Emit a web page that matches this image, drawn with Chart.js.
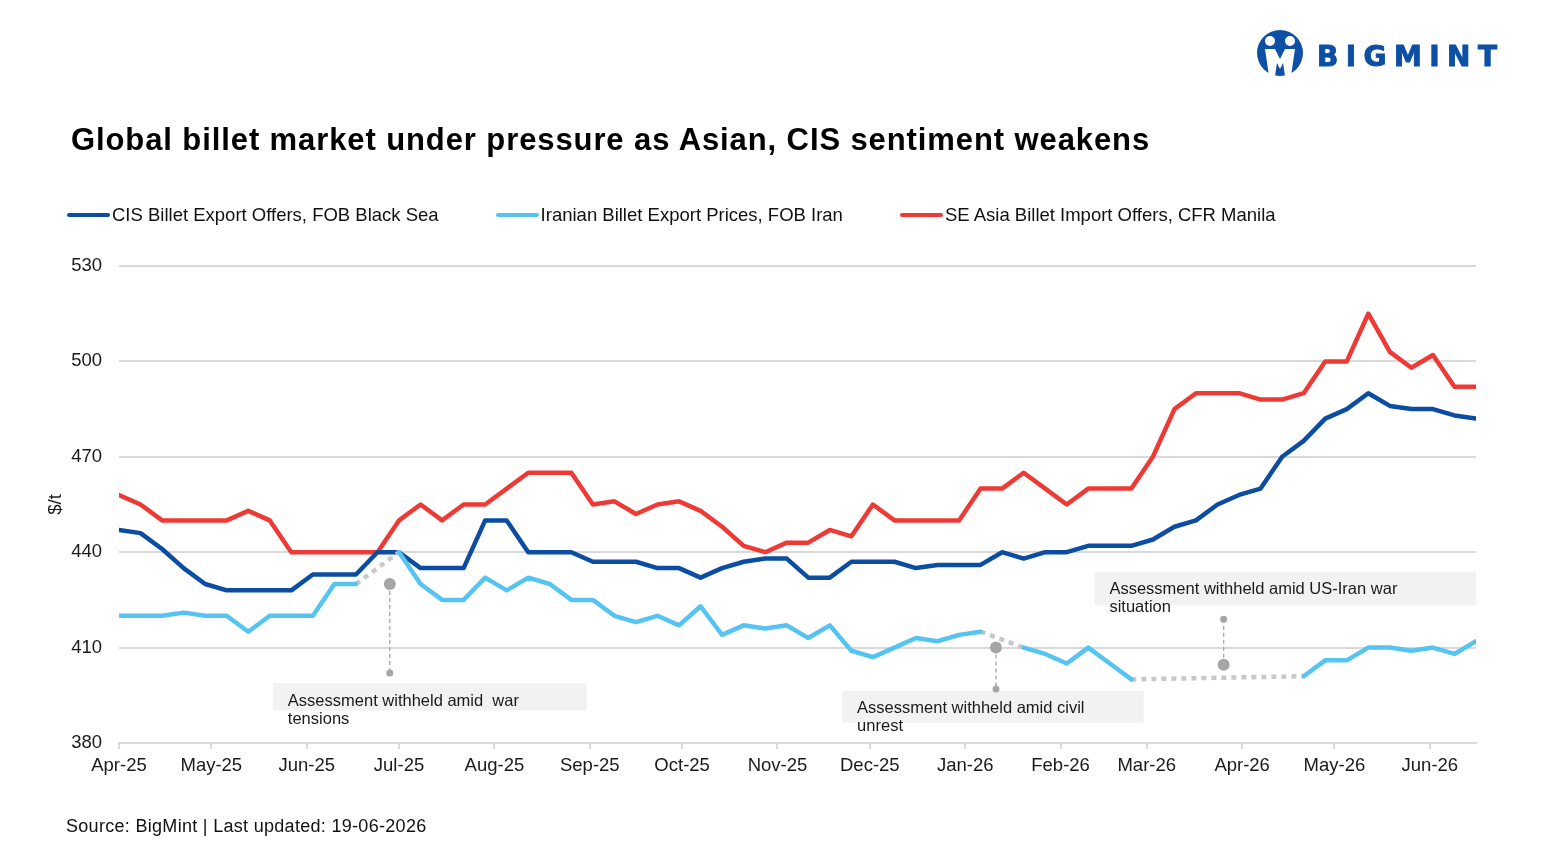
<!DOCTYPE html>
<html>
<head>
<meta charset="utf-8">
<title>Global billet market</title>
<script src="https://cdn.jsdelivr.net/npm/chart.js@4.4.1/dist/chart.umd.min.js"></script>
<style>
  html, body { margin: 0; padding: 0; background: #fff; }
  body { width: 1567px; height: 862px; position: relative; overflow: hidden;
         font-family: 'Liberation Sans', Arial, sans-serif; color: #111; }
  #chartBox { position: absolute; left: 0; top: 0; width: 1567px; height: 862px; }
  #title { position: absolute; left: 71px; top: 122px; font-size: 31px; line-height: 36px;
           font-weight: 700; letter-spacing: 0.9px; white-space: nowrap; color: #000; }
  #legend { position: absolute; left: 67px; top: 203px; display: flex; align-items: center;
            font-size: 18.5px; line-height: 24px; white-space: nowrap; }
  #legend .item { display: flex; align-items: center; margin-right: 57px; }
  #legend .swatch { width: 43px; height: 4.5px; border-radius: 3px; margin-right: 2px; }
  #source { position: absolute; left: 66px; top: 815px; font-size: 18px; line-height: 22px;
            letter-spacing: 0.3px; white-space: nowrap; }
  #logo { position: absolute; left: 1250px; top: 25px; }
</style>
</head>
<body>
<div id="chartBox"><canvas id="billet" width="1567" height="862"></canvas></div>
<div id="title">Global billet market under pressure as Asian, CIS sentiment weakens</div>
<div id="legend"></div>
<div id="source">Source: BigMint | Last updated: 19-06-2026</div>
<svg id="logo" width="260" height="60" viewBox="0 0 260 60">
  <circle cx="30" cy="28" r="23" fill="#0d4fa5"/>
  <circle cx="20" cy="16" r="5" fill="#fff"/>
  <circle cx="40" cy="16" r="5" fill="#fff"/>
  <path d="M15 24 L25 24 L30 34 L35 24 L45 24 L41 51 L35 51 L33 38 L30 44 L27 38 L25 51 L19 51 Z" fill="#fff"/>
  <circle cx="30" cy="21" r="3.5" fill="#0d4fa5"/>
  <text x="67" y="41" font-family="DejaVu Sans" font-weight="700" font-size="28" fill="#0d4fa5"
        stroke="#0d4fa5" stroke-width="0.9" textLength="180" lengthAdjust="spacing">BIGMINT</text>
</svg>
<script>
// weekly assessment dates
const weekDates = [
  '2025-04-01', '2025-04-08', '2025-04-15', '2025-04-22', '2025-04-29',
  '2025-05-06', '2025-05-13', '2025-05-20', '2025-05-27',
  '2025-06-03', '2025-06-10', '2025-06-17', '2025-06-24',
  '2025-07-01', '2025-07-08', '2025-07-15', '2025-07-22', '2025-07-29',
  '2025-08-05', '2025-08-12', '2025-08-19', '2025-08-26',
  '2025-09-02', '2025-09-09', '2025-09-16', '2025-09-23', '2025-09-30',
  '2025-10-07', '2025-10-14', '2025-10-21', '2025-10-28',
  '2025-11-04', '2025-11-11', '2025-11-18', '2025-11-25',
  '2025-12-02', '2025-12-09', '2025-12-16', '2025-12-23', '2025-12-30',
  '2026-01-06', '2026-01-13', '2026-01-20', '2026-01-27',
  '2026-02-03', '2026-02-10', '2026-02-17', '2026-02-24',
  '2026-03-03', '2026-03-10', '2026-03-17', '2026-03-24', '2026-03-31',
  '2026-04-07', '2026-04-14', '2026-04-21', '2026-04-28',
  '2026-05-05', '2026-05-12', '2026-05-19', '2026-05-26',
  '2026-06-02', '2026-06-09', '2026-06-16'
];

const cisOffers = [
  447, 446, 441, 435, 430, 428, 428, 428, 428, 433, 433, 433, 440,
  440, 435, 435, 435, 450, 450, 440, 440, 440, 437, 437, 437, 435, 435,
  432, 435, 437, 438, 438, 432, 432, 437, 437, 437, 435, 436, 436,
  436, 440, 438, 440, 440, 442, 442, 442, 444, 448, 450, 455, 458,
  460, 470, 475, 482, 485, 490, 486, 485, 485, 483, 482
];

// null = assessment withheld
const iranPrices = [
  420, 420, 420, 421, 420, 420, 415, 420, 420, 420, 430, 430, null,
  440, 430, 425, 425, 432, 428, 432, 430, 425, 425, 420, 418, 420, 417,
  423, 414, 417, 416, 417, 413, 417, 409, 407, 410, 413, 412, 414,
  415, null, 410, 408, 405, 410, 405, 400, null, null, null, null, null,
  null, null, 401, 406, 406, 410, 410, 409, 410, 408, 412
];

const seAsiaOffers = [
  458, 455, 450, 450, 450, 450, 453, 450, 440, 440, 440, 440, 440,
  450, 455, 450, 455, 455, 460, 465, 465, 465, 455, 456, 452, 455, 456,
  453, 448, 442, 440, 443, 443, 447, 445, 455, 450, 450, 450, 450,
  460, 460, 465, 460, 455, 460, 460, 460, 470, 485, 490, 490, 490,
  488, 488, 490, 500, 500, 515, 503, 498, 502, 492, 492
];

const monthTicks = [
  '2025-04-01', '2025-05-01', '2025-06-01', '2025-07-01', '2025-08-01',
  '2025-09-01', '2025-10-01', '2025-11-01', '2025-12-01', '2026-01-01',
  '2026-02-01', '2026-03-01', '2026-04-01', '2026-05-01', '2026-06-01'
];
const monthLabels = [
  'Apr-25', 'May-25', 'Jun-25', 'Jul-25', 'Aug-25', 'Sep-25', 'Oct-25', 'Nov-25',
  'Dec-25', 'Jan-26', 'Feb-26', 'Mar-26', 'Apr-26', 'May-26', 'Jun-26'
];

const seriesNames = [
  'CIS Billet Export Offers, FOB Black Sea',
  'Iranian Billet Export Prices, FOB Iran',
  'SE Asia Billet Import Offers, CFR Manila'
];

const noteTexts = [
  ['Assessment withheld amid  war', 'tensions'],
  ['Assessment withheld amid civil', 'unrest'],
  ['Assessment withheld amid US-Iran war', 'situation']
];

// ---- helpers ----
const dayOf = d => (Date.parse(d) - Date.parse(weekDates[0])) / 864e5;
const toPoints = vals => vals.map((v, i) => ({ x: dayOf(weekDates[i]), y: v }));

// dotted links bridging the withheld weeks of the Iranian series
function gapLinks(vals) {
  const out = [];
  let i = 0;
  while (i < vals.length) {
    if (vals[i] === null && i > 0) {
      let j = i;
      while (j < vals.length && vals[j] === null) j++;
      if (j < vals.length) {
        out.push({ x: dayOf(weekDates[i - 1]), y: vals[i - 1] });
        out.push({ x: dayOf(weekDates[j]), y: vals[j] });
        out.push({ x: dayOf(weekDates[j]) + 0.01, y: null });
      }
      i = j;
    } else {
      i++;
    }
  }
  return out;
}

// callouts: dot on the gap, leader to a small dot, grey text box
const notes = [
  { at: '2025-06-28', dotY: 430, endY: 402, box: ['2025-05-21', '2025-08-31', 398.8, 390.2], text: noteTexts[0] },
  { at: '2026-01-11', dotY: 410, endY: 397, box: ['2025-11-22', '2026-02-28', 396.4, 386.4], text: noteTexts[1] },
  { at: '2026-03-26', dotY: 404.6, endY: 418.9, box: ['2026-02-12', '2026-06-16', 433.9, 423.4], text: noteTexts[2] }
];

const notesPlugin = {
  id: 'notes',
  afterDraw(chart) {
    const { ctx } = chart;
    const x = chart.scales.x, y = chart.scales.y;
    ctx.save();
    notes.forEach(n => {
      const bx0 = x.getPixelForValue(dayOf(n.box[0]));
      const bx1 = x.getPixelForValue(dayOf(n.box[1]));
      const by0 = y.getPixelForValue(n.box[2]);
      const by1 = y.getPixelForValue(n.box[3]);
      ctx.fillStyle = '#f2f2f2';
      ctx.fillRect(bx0, by0, bx1 - bx0, by1 - by0);

      ctx.fillStyle = '#1a1a1a';
      ctx.font = '16.5px "Liberation Sans", Arial, sans-serif';
      ctx.textBaseline = 'alphabetic';
      ctx.textAlign = 'left';
      n.text.forEach((t, i) => ctx.fillText(t, bx0 + 15, by0 + 22.5 + i * 18));

      const dx = x.getPixelForValue(dayOf(n.at));
      const dy = y.getPixelForValue(n.dotY);
      const ey = y.getPixelForValue(n.endY);
      ctx.strokeStyle = '#a6a6a6';
      ctx.lineWidth = 1.3;
      ctx.setLineDash([4, 3]);
      ctx.beginPath();
      ctx.moveTo(dx, dy);
      ctx.lineTo(dx, ey);
      ctx.stroke();
      ctx.setLineDash([]);
      ctx.fillStyle = '#a6a6a6';
      ctx.beginPath();
      ctx.arc(dx, dy, 6, 0, Math.PI * 2);
      ctx.fill();
      ctx.beginPath();
      ctx.arc(dx, ey, 3.5, 0, Math.PI * 2);
      ctx.fill();
    });
    ctx.restore();
  }
};

Chart.defaults.font.family = "'Liberation Sans', Arial, sans-serif";
Chart.defaults.font.size = 18.5;
Chart.defaults.color = '#1a1a1a';

const lineStyle = {
  borderWidth: 4.5,
  pointRadius: 0,
  tension: 0,
  borderJoinStyle: 'round',
  borderCapStyle: 'round',
  fill: false
};

const datasets = [
  { label: seriesNames[0], data: toPoints(cisOffers), borderColor: '#0a4da2', order: 2, ...lineStyle },
  { label: seriesNames[1], data: toPoints(iranPrices), borderColor: '#55c4f1', order: 0, ...lineStyle },
  { label: seriesNames[2], data: toPoints(seAsiaOffers), borderColor: '#ee3a35', order: 3, ...lineStyle },
  { label: '', data: gapLinks(iranPrices), borderColor: '#c8c8c8', order: 1, ...lineStyle,
    borderCapStyle: 'butt', borderDash: [5, 5], spanGaps: false }
];

// html legend
const legend = document.getElementById('legend');
datasets.filter(d => d.label).forEach(d => {
  const item = document.createElement('div');
  item.className = 'item';
  const sw = document.createElement('span');
  sw.className = 'swatch';
  sw.style.background = d.borderColor;
  const tx = document.createElement('span');
  tx.textContent = d.label;
  item.appendChild(sw);
  item.appendChild(tx);
  legend.appendChild(item);
});

new Chart(document.getElementById('billet'), {
  type: 'line',
  data: { datasets: datasets },
  options: {
    responsive: false,
    devicePixelRatio: 1,
    animation: false,
    events: [],
    layout: { padding: { left: 41, top: 266, right: 91, bottom: 19 } },
    plugins: { legend: { display: false }, tooltip: { enabled: false } },
    scales: {
      x: {
        type: 'linear',
        min: dayOf(weekDates[0]),
        max: dayOf(weekDates[weekDates.length - 1]),
        afterBuildTicks: axis => { axis.ticks = monthTicks.map(d => ({ value: dayOf(d) })); },
        afterFit: s => { s.height = 100; },
        ticks: {
          autoSkip: false,
          maxRotation: 0,
          padding: 6,
          callback: (v, i) => monthLabels[i]
        },
        grid: { drawOnChartArea: false, drawTicks: true, tickLength: 6, color: '#d9d9d9', lineWidth: 2 },
        border: { display: true, color: '#d9d9d9', width: 2 }
      },
      y: {
        min: 380,
        max: 530,
        afterFit: s => { s.width = 78; },
        ticks: { stepSize: 30, padding: 17 },
        grid: { color: '#d9d9d9', lineWidth: 2, drawTicks: false },
        border: { display: false },
        title: { display: true, text: '$/t', font: { size: 18.5 }, padding: { top: 4, bottom: 4 } }
      }
    }
  },
  plugins: [notesPlugin]
});
</script>
</body>
</html>
